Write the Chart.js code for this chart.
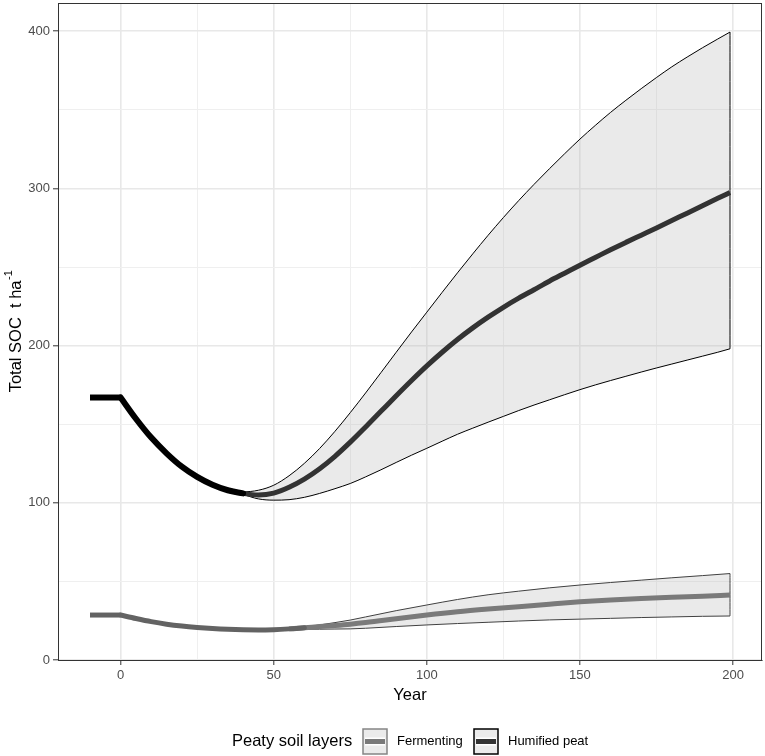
<!DOCTYPE html>
<html>
<head>
<meta charset="utf-8">
<script src="https://cdn.jsdelivr.net/npm/chart.js@4.4.1/dist/chart.umd.min.js"></script>
<style>
  html, body { margin: 0; padding: 0; background: #fff; }
  #wrap { width: 765px; height: 756px; position: relative; }
</style>
</head>
<body>
<div id="wrap"><canvas id="myChart"></canvas></div>
<script>
// axis ticks
const xMajor = [0, 50, 100, 150, 200];
const xMinor = [25, 75, 125, 175];
const yMajor = [0, 100, 200, 300, 400];
const yMinor = [50, 150, 250, 350];

// humified peat
const humFlatYears = [-10, 0];
const humFlat = [167, 167];
const humEarlyYears = [0, 5, 10, 15, 20, 25, 30, 35, 40];
const humEarly = [167, 153.5, 141.5, 131.5, 123, 116.5, 111.5, 108, 106];
const humYears = [35, 40, 45, 50, 55, 60, 65, 70, 75, 80, 85, 90, 95, 100, 105, 110, 115, 120, 125, 130, 135, 140, 145, 150, 155, 160, 165, 170, 175, 180, 185, 190, 195, 199];
const humMean = [108, 106, 105, 106.2, 109.9, 115.1, 121.7, 129.6, 138.6, 148.3, 158.2, 168.1, 177.8, 187.1, 195.8, 203.9, 211.3, 218.1, 224.4, 230.2, 235.6, 241, 246.1, 251.2, 256.1, 261, 265.7, 270.3, 274.9, 279.6, 284.3, 289, 293.7, 297.5];
const humUpper = [108, 107, 108, 111.2, 117.2, 125.1, 134.6, 145.5, 157.4, 169.9, 182.8, 195.8, 208.7, 221.3, 233.9, 246.3, 258.4, 270.2, 281.5, 292.3, 302.6, 312.5, 322.1, 331.4, 340.1, 348.4, 356.1, 363.5, 370.6, 377.4, 383.6, 389.5, 395.1, 399.5];
const humLower = [108, 105.3, 102.5, 101.7, 102, 103.5, 106, 109, 112.3, 116.5, 121, 125.7, 130.3, 134.7, 139.2, 143.6, 147.5, 151.3, 155, 158.7, 162.2, 165.5, 168.8, 172, 175, 177.8, 180.5, 183.2, 185.8, 188.3, 190.8, 193.3, 195.8, 198];

// fermenting
const fermFlatYears = [-10, 0];
const fermFlat = [28.6, 28.6];
const fermEarlyYears = [0, 5, 10, 15, 20, 25, 30, 35, 40, 45, 50, 55, 60];
const fermEarly = [28.6, 26.4, 24.4, 22.8, 21.6, 20.7, 20, 19.5, 19.2, 19.1, 19.3, 19.8, 20.5];
const fermYears = [55, 60, 65, 70, 75, 80, 90, 100, 110, 120, 130, 140, 150, 160, 170, 180, 190, 199];
const fermMean = [19.8, 20.5, 21.3, 22, 22.8, 23.8, 26.2, 28.6, 30.7, 32.4, 33.9, 35.5, 37, 38.2, 39.1, 39.9, 40.6, 41.3];
const fermUpper = [19.8, 21, 22.3, 23.8, 25.4, 27.4, 31.4, 35, 38.5, 41.5, 43.8, 45.9, 47.7, 49.3, 50.8, 52.3, 53.7, 55];
const fermLower = [19.8, 19.6, 19.6, 19.7, 19.8, 20.2, 21.3, 22.3, 23.2, 24, 24.8, 25.5, 26, 26.5, 27, 27.4, 27.8, 28];

const legendTitle = 'Peaty soil layers';
const legendLabels = ['Fermenting', 'Humified peat'];

const FONT = '"Liberation Sans", Arial, sans-serif';
const bandFill = 'rgba(179,179,179,0.28)';

function pts(xs, ys) {
    return xs.map((x, i) => ({ x: x, y: ys[i] }));
}
function endEdge(xs, lo, hi) {
    const n = xs.length - 1;
    return [{ x: xs[n], y: lo[n] }, { x: xs[n], y: hi[n] }];
}

const base = { pointRadius: 0, fill: false, cubicInterpolationMode: 'monotone', borderCapStyle: 'butt' };

const datasets = [
    // 0 humified upper (filled to 1)
    { ...base, data: pts(humYears, humUpper), borderColor: '#000', borderWidth: 1, fill: { target: 1 }, backgroundColor: bandFill, order: 9 },
    // 1 humified lower
    { ...base, data: pts(humYears, humLower), borderColor: '#000', borderWidth: 1, order: 8 },
    // 2 humified right edge
    { ...base, data: endEdge(humYears, humLower, humUpper), borderColor: '#000', borderWidth: 1, order: 8 },
    // 3 fermenting upper (filled to 4)
    { ...base, data: pts(fermYears, fermUpper), borderColor: '#404040', borderWidth: 1, fill: { target: 4 }, backgroundColor: bandFill, order: 9 },
    // 4 fermenting lower
    { ...base, data: pts(fermYears, fermLower), borderColor: '#404040', borderWidth: 1, order: 8 },
    // 5 fermenting right edge
    { ...base, data: endEdge(fermYears, fermLower, fermUpper), borderColor: '#404040', borderWidth: 1, order: 8 },
    // means
    { ...base, data: pts(fermYears, fermMean), borderColor: '#7a7a7a', borderWidth: 5, order: 5 },
    { ...base, data: pts(fermFlatYears, fermFlat), borderColor: '#636363', borderWidth: 5, order: 4 },
    { ...base, data: pts(fermEarlyYears, fermEarly), borderColor: '#636363', borderWidth: 5, borderCapStyle: 'round', order: 4 },
    { ...base, data: pts(humYears, humMean), borderColor: '#333333', borderWidth: 5, order: 3 },
    { ...base, data: pts(humFlatYears, humFlat), borderColor: '#000', borderWidth: 6, order: 2 },
    { ...base, data: pts(humEarlyYears, humEarly), borderColor: '#000', borderWidth: 6, borderCapStyle: 'round', order: 2 }
];

function gridColor(major) {
    return ctx => major.includes(ctx.tick.value) ? '#e8e8e8' : '#efefef';
}
function gridWidth(major) {
    return ctx => major.includes(ctx.tick.value) ? 1.6 : 1;
}
function tickMarkColor(major) {
    return ctx => major.includes(ctx.tick.value) ? '#333333' : 'rgba(0,0,0,0)';
}

const panelPlugin = {
    id: 'panel',
    afterDraw(chart) {
        const { ctx, chartArea: a } = chart;
        ctx.save();
        ctx.strokeStyle = '#333333';
        ctx.lineWidth = 1;
        ctx.strokeRect(a.left + 0.5, a.top + 0.5, a.right - a.left - 1, a.bottom - a.top);

        // y axis title with superscript
        const main = 'Total SOC  t ha';
        const sup = '-1';
        ctx.fillStyle = '#000';
        ctx.font = '16.5px ' + FONT;
        const w1 = ctx.measureText(main).width;
        ctx.font = '11px ' + FONT;
        const w2 = ctx.measureText(sup).width;
        const cy = (a.top + a.bottom) / 2;
        ctx.translate(16, cy);
        ctx.rotate(-Math.PI / 2);
        ctx.textBaseline = 'middle';
        ctx.textAlign = 'left';
        const start = -(w1 + w2) / 2;
        ctx.font = '16.5px ' + FONT;
        ctx.fillText(main, start, 0);
        ctx.font = '11px ' + FONT;
        ctx.fillText(sup, start + w1 + 0.5, -7);
        ctx.restore();

        // legend
        ctx.save();
        ctx.textBaseline = 'middle';
        ctx.fillStyle = '#000';
        ctx.font = '16.5px ' + FONT;
        const ly = 741.5;
        ctx.fillText(legendTitle, 232, ly);
        const keys = [
            { x: 363, border: '#858585', line: '#7a7a7a', text: 397 },
            { x: 474, border: '#000000', line: '#333333', text: 508 }
        ];
        keys.forEach((k, i) => {
            const top = 729, h = 25, w = 24;
            ctx.fillStyle = '#ebebeb';
            ctx.fillRect(k.x, top, w, h);
            ctx.strokeStyle = '#ffffff';
            ctx.lineWidth = 8;
            ctx.beginPath();
            ctx.moveTo(k.x + 2, ly);
            ctx.lineTo(k.x + w - 2, ly);
            ctx.stroke();
            ctx.strokeStyle = k.line;
            ctx.lineWidth = 5;
            ctx.beginPath();
            ctx.moveTo(k.x + 2, ly);
            ctx.lineTo(k.x + w - 2, ly);
            ctx.stroke();
            ctx.strokeStyle = k.border;
            ctx.lineWidth = 1.5;
            ctx.strokeRect(k.x, top, w, h);
            ctx.fillStyle = '#000';
            ctx.font = '13px ' + FONT;
            ctx.fillText(legendLabels[i], k.text, ly);
        });
        ctx.restore();
    }
};

new Chart(document.querySelector('#myChart'), {
    type: 'line',
    data: { datasets: datasets },
    options: {
        responsive: true,
        maintainAspectRatio: false,
        devicePixelRatio: 1,
        animation: false,
        layout: { padding: { top: 3, right: 3, bottom: 40, left: 0 } },
        plugins: { legend: { display: false }, tooltip: { enabled: false } },
        scales: {
            x: {
                type: 'linear',
                min: -20.45,
                max: 209.45,
                afterBuildTicks: s => { s.ticks = xMajor.concat(xMinor).sort((a, b) => a - b).map(v => ({ value: v })); },
                afterFit: s => { s.height = 56; s.paddingLeft = 0; s.paddingRight = 0; },
                ticks: {
                    autoSkip: false,
                    maxRotation: 0,
                    padding: 3,
                    color: '#4d4d4d',
                    font: { family: FONT, size: 13 },
                    callback: v => xMajor.includes(v) ? String(v) : ''
                },
                grid: { color: gridColor(xMajor), lineWidth: gridWidth(xMajor), tickColor: tickMarkColor(xMajor), tickLength: 5, tickWidth: 1 },
                border: { display: true, color: '#333333', width: 1 },
                title: { display: true, text: 'Year', color: '#000', font: { family: FONT, size: 16.5 }, padding: { top: 0, bottom: 11 } }
            },
            y: {
                type: 'linear',
                min: 0,
                max: 418,
                afterBuildTicks: s => { s.ticks = yMajor.concat(yMinor).sort((a, b) => a - b).map(v => ({ value: v })); },
                afterFit: s => { s.width = 58; s.paddingTop = 0; s.paddingBottom = 0; },
                ticks: {
                    autoSkip: false,
                    padding: 3,
                    color: '#4d4d4d',
                    font: { family: FONT, size: 13 },
                    callback: v => yMajor.includes(v) ? String(v) : ''
                },
                grid: { color: gridColor(yMajor), lineWidth: gridWidth(yMajor), tickColor: tickMarkColor(yMajor), tickLength: 5, tickWidth: 1 },
                border: { display: true, color: '#333333', width: 1 }
            }
        }
    },
    plugins: [panelPlugin]
});
</script>
</body>
</html>
